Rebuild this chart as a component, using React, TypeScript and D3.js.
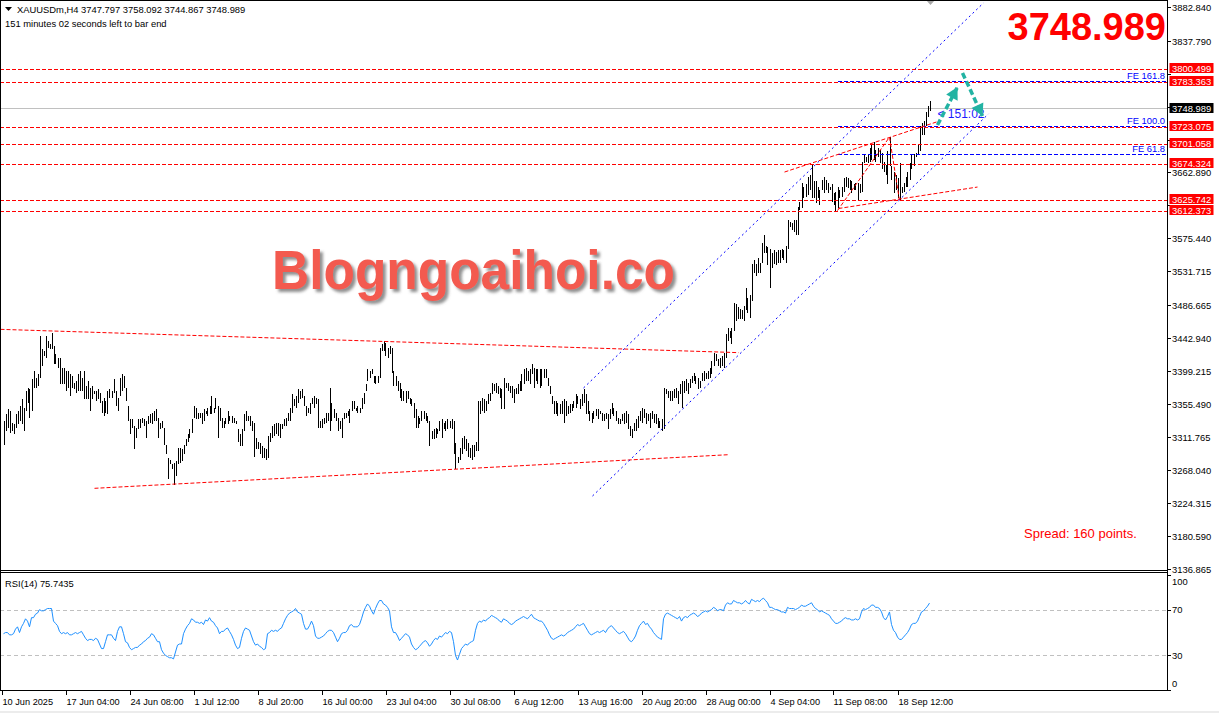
import React from "react";
import * as d3 from "d3";

// ---------- DATA ----------
const highs: number[] = [
3333,3342,3349,3346,3330,3329,3342,3346,3353,3362,
3350,3373,3377,3376,3389,3400,3390,3396,3446,3429,
3426,3446,3440,3436,3450,3433,3422,3417,3417,3404,
3404,3400,3400,3396,3393,3384,3386,3396,3400,3390,
3400,3380,3386,3377,3380,3373,3373,3376,3370,3360,
3364,3360,3373,3376,3373,3389,3373,3364,3390,3396,
3393,3377,3353,3336,3336,3326,3324,3336,3336,3337,
3336,3333,3340,3342,3344,3346,3349,3337,3330,3333,
3324,3302,3284,3282,3276,3277,3280,3297,3297,3296,
3302,3309,3316,3322,3336,3353,3350,3344,3344,3344,
3349,3346,3350,3353,3366,3350,3364,3353,3350,3337,
3333,3337,3346,3340,3340,3337,3333,3322,3316,
3322,3342,3346,3340,3340,3333,3330,3310,3306,3304,
3300,3297,3296,3313,3317,3326,3329,3330,3330,3329,
3329,3336,3337,3344,3350,3369,3362,3366,3376,3373,
3376,3366,3353,3350,3357,3364,3366,3364,3362,3333,
3336,3337,3344,3344,3377,3357,3349,3344,3337,3333,
3337,3344,3344,3346,3349,3360,3360,3350,3353,3350,
3364,3370,3382,3402,3400,3402,3393,3393,3393,3430,
3436,3440,3437,3430,3433,3430,3400,3393,3386,3384,
3376,3373,3373,3373,3364,3362,3357,3349,3340,3337,
3346,3346,3344,3340,3333,3320,3322,3324,3322,3333,
3336,3330,3333,3336,3333,3336,3333,3304,3286,3297,
3310,3313,3309,3304,3297,3302,3302,
3306,3360,3360,3364,3362,3360,3369,3370,3384,3382,
3384,3380,3377,3376,3390,3384,3384,3380,3380,3376,
3377,3382,3386,3396,3402,3404,3400,3402,3409,3404,
3402,3402,3402,3402,3402,3402,3390,3380,3366,3360,
3360,3357,3356,3360,3362,3360,3353,3356,3356,3360,
3369,3366,3362,3369,3376,3369,3360,3346,3344,3346,
3349,3349,3346,3344,3342,3344,3342,3349,3357,3350,
3346,3337,3336,3342,3344,3346,3342,3326,3322,3330,
3336,3340,3346,3350,3349,3344,3342,3344,3346,3342,
3342,3337,3333,3336,3377,3376,3373,3373,3373,3376,
3377,3373,3382,3386,3386,3389,3384,3389,3393,3397,
3393,3390,3386,
3397,3400,3397,3400,3404,3413,3424,3422,3416,3417,
3420,3424,3449,3456,3453,3457,3490,3489,3484,3482,
3480,3486,3509,3497,3500,3542,3547,3542,3549,3543,
3569,3580,3566,3564,3562,3556,3560,3557,3560,3560,
3562,3560,3566,3600,3597,3596,3600,3600,3617,3624,
3649,3644,3647,3657,3660,3674.3,3651,3651,3644,3640,
3653,3657,3653,3649,3644,3647,3636,3637,3644,3640,
3644,3656,3657,3656,3653,3651,3647,3649,3649,3647,
3677,3687,3684,3687,3696,3701,3704,3693,3696,3693,
3689,3677,3673,3691,3709.8,3671,3663,3660,3656,3676,
3644,3649,3657,3663,3676,3687,3687,3689,3700,3724,
3729,3731,3743,3751,3758.092
];

const lows: number[] = [
3302,3320,3324,3317,3320,3316,3324,3329,3333,3329,
3320,3346,3357,3337,3346,3377,3377,3380,3390,3406,
3420,3417,3430,3429,3429,3409,3409,3404,3382,3382,
3382,3373,3377,3366,3377,3376,3370,3373,3373,3373,
3362,3362,3362,3346,3362,3369,3360,3362,3357,3344,
3340,3344,3342,3364,3364,3370,3353,3346,3366,3373,
3377,3360,3333,3316,3324,3296,3310,3322,3324,3330,
3326,3310,3329,3330,3329,3333,3333,3310,3322,3324,
3302,3290,3256,3276,3269,3248,3260,3276,3277,3280,
3289,3300,3306,3310,3317,3337,3336,3336,3337,3329,
3333,3342,3340,3342,3342,3344,3349,3310,3333,3324,
3324,3329,3329,3333,3330,3330,3329,3306,3300,
3300,3320,3333,3333,3326,3320,3285,3296,3296,3289,
3284,3284,3282,3284,3306,3310,3313,3316,3313,3310,
3322,3326,3326,3333,3333,3344,3353,3350,3357,3362,
3364,3353,3340,3344,3342,3356,3350,3356,3324,3324,
3324,3329,3330,3333,3320,3333,3337,3333,3320,3322,
3310,3336,3337,3340,3330,3346,3349,3346,3344,3344,
3349,3356,3373,3386,3390,3396,3384,3382,3384,3390,
3426,3426,3420,3417,3422,3397,3380,3380,3373,3364,
3360,3360,3357,3362,3356,3353,3337,3324,3324,3329,
3333,3336,3333,3330,3300,3309,3309,3310,3316,3320,
3310,3322,3320,3322,3324,3322,3289,3269,3277,3282,
3289,3296,3293,3286,3284,3282,3286,
3293,3293,3342,3346,3344,3346,3356,3360,3369,3373,
3370,3369,3364,3349,3349,3377,3373,3370,3364,3357,
3369,3369,3373,3373,3382,3386,3386,3382,3396,3377,
3386,3382,3377,3380,3390,3390,3380,3369,3356,3342,
3342,3340,3342,3342,3330,3340,3342,3344,3346,3350,
3350,3356,3349,3353,3357,3342,3342,3333,3330,3336,
3340,3336,3342,3333,3333,3336,3322,3336,3342,3340,
3333,3329,3329,3333,3329,3330,3322,3313,3310,3320,
3320,3324,3333,3330,3337,3329,3333,3324,3336,3330,
3329,3324,3324,3320,3322,3369,3364,3360,3360,3364,
3364,3356,3369,3350,3370,3373,3369,3377,3384,3386,
3382,3376,3377,
3386,3386,3389,3389,3390,3396,3406,3413,3406,3404,
3406,3404,3417,3440,3443,3436,3453,3466,3469,3469,
3469,3466,3480,3476,3470,3493,3529,3526,3529,3530,
3543,3556,3556,3540,3510,3536,3542,3540,3543,3543,
3549,3547,3543,3562,3591,3587,3584,3580,3580,3613,
3616,3629,3631,3633,3640,3629,3629,3623,3629,3620,
3640,3636,3640,3636,3640,3624,3620,3612.4,3616,3629,
3631,3637,3644,3642,3640,3636,3640,3640,3627,3636,
3637,3676,3677,3676,3677,3680,3680,3677,3684,3676,
3667,3663,3660,3647,3671,3653,3636,3640,3629,3625.7,
3636,3637,3643,3644,3653,3667,3671,3683,3687,3691,
3713,3713,3724,3736,3744.867
];

const rsiValues: number[] = [
49,50,50,48,48,49,53,55,50,55,
58,62,60,55,63,63,66,67,70,69,
69,70,71,71,71,60,58,56,51,49,
50,49,50,48,48,49,50,49,50,51,
48,45,43,44,44,43,45,44,40,36,
36,42,48,48,48,45,43,51,55,55,
49,42,41,37,35,36,37,37,39,40,
42,43,45,46,49,48,45,42,42,35,
32,30,29,28,28,27,33,39,40,40,
49,53,56,58,62,61,59,59,58,59,
57,61,60,63,60,59,56,54,49,51,
51,53,54,51,48,44,39,36,37,45,
51,54,53,52,47,42,39,40,38,37,
35,36,49,50,52,51,52,51,53,54,
58,62,65,67,68,69,71,68,67,66,
58,53,53,56,60,56,47,45,45,46,
47,49,51,52,52,50,46,42,45,49,
50,50,52,56,57,55,55,55,57,62,
68,72,75,73,69,66,71,75,78,78,
75,74,72,69,55,50,50,47,43,
45,47,49,48,46, 40,37,35,36,38, 40,42,43,41,38, 40,43,45,44,47,
46,48,50,49,51, 50,42,30,26,31, 36,38,40,39,41, 42,43,52,58,60,
59,61,60,62,63, 65,64,63,62,60, 59,62,61,60,58, 57,58,60,61,62,
63,64,63,62,64, 66,63,62,61,60, 60,58,55,52,48, 45,44,45,46,47,
48,47,48,50,51, 52,53,55,57,56, 57,58,55,52,49, 48,49,50,51,50,
51,52,50,53,55, 56,54,52,50,49, 50,51,49,46,43, 42,44,47,52,56,
58,60,57,58,55, 53,50,48,46,45, 44,62,66,67,66, 65,64,63,62,64,
60,63,64,63,65, 66,67,66,64,65, 67,68,69,68,69, 70,72,71,69,70,
70,69,74,76,75, 75,78,77,76,76, 75,76,78,76,75, 79,78,77,78,77,
79,80,78,76,72, 72,71,70,70,69, 68,68,67,72,71, 71,71,70,71,72,
74,73,73,74,75, 76,73,71,70,68, 69,68,67,66,65, 62,60,58,58,59,
60,62,63,62,62, 61,61,62,61,62, 68,71,70,71,72, 74,74,72,72,71,
68,63,61,64,68, 57,52,50,46,44, 44,46,48,50,53, 57,58,58,60,64,
68,69,71,73,75.7435
];

const priceTicks: number[] = [3882.84, 3837.79, 3794.065, 3750.34, 3706.615, 3662.89, 3619.165, 3575.44, 3531.715, 3486.665, 3442.94, 3399.215, 3355.49, 3311.765, 3268.04, 3224.315, 3180.59, 3136.865];
const dateLabels: string[] = ["10 Jun 2025", "17 Jun 04:00", "24 Jun 08:00", "1 Jul 12:00", "8 Jul 20:00", "16 Jul 00:00", "23 Jul 04:00", "30 Jul 08:00", "6 Aug 12:00", "13 Aug 16:00", "20 Aug 20:00", "28 Aug 00:00", "4 Sep 04:00", "11 Sep 08:00", "18 Sep 12:00"];
const dateLabelBars: number[] = [0, 32, 64, 96, 128, 160, 192, 224, 256, 288, 320, 352, 384, 416, 448];

const levelPrices: number[] = [3800.499, 3783.363, 3723.075, 3701.058, 3674.324, 3625.742, 3612.373];
const lastPrice = 3748.989;
const feNames: string[] = ["FE 161.8", "FE 100.0", "FE 61.8"];
const fePrices: number[] = [3784.3, 3724.6, 3688.0];
const feStartBar = 417;
const zigzag = [{ i: 417, p: 3612.373 }, { i: 443, p: 3709.8 }, { i: 448, p: 3625.742 }];
const redTrendLines = [
  [{ i: -1.5, p: 3454.8 }, { i: 367.5, p: 3423.9 }],
  [{ i: 45.5, p: 3243.9 }, { i: 362.5, p: 3288.5 }],
  [{ i: 390.5, p: 3663.5 }, { i: 466.5, p: 3729.9 }],
  [{ i: 417.5, p: 3615.1 }, { i: 487, p: 3643.6 }],
];
const blueChannel = [
  [{ i: 290, p: 3377.0 }, { i: 490, p: 3887.8 }],
  [{ i: 294.5, p: 3233.7 }, { i: 492.5, p: 3740.6 }],
];
const arrows = [
  [{ i: 467, p: 3725.9 }, { i: 477, p: 3776.3 }],
  [{ i: 479.5, p: 3794.9 }, { i: 489.5, p: 3737.8 }],
];
const rsiLevels: number[] = [70, 30];
const rsiTicks: number[] = [100, 70, 30, 0];

const FONT = "'Liberation Sans', Arial, Helvetica, sans-serif";

export default function App() {
  const n = Math.min(highs.length, lows.length);
  const fx = d3.scaleLinear().domain([0, 463]).range([3.5, 929.5]);
  const fy = d3.scaleLinear().domain([3136.865, 3882.84]).range([569, 6.7]);
  const fr = d3.scaleLinear().domain([0, 100]).range([689.8, 575.3]);
  const c = (v: number) => Math.round(v) + 0.5;
  const rsiPath = d3.line<number>().x((_, i) => fx(i)).y((d) => fr(d))(rsiValues.slice(0, n)) || "";
  const AX = 1167.5;
  const boxYs = levelPrices.map((p) => fy(p)).concat([fy(lastPrice)]);
  const covered = (p: number) => boxYs.some((yy) => Math.abs(yy - fy(p)) < 5);

  const arrowHead = (a: { i: number; p: number }, b: { i: number; p: number }) => {
    const x1 = fx(a.i), y1 = fy(a.p), x2 = fx(b.i), y2 = fy(b.p);
    const ang = Math.atan2(y2 - y1, x2 - x1);
    const L = 12, Wd = 6.5;
    const bx = x2 - L * Math.cos(ang), by = y2 - L * Math.sin(ang);
    const px = -Math.sin(ang), py = Math.cos(ang);
    return `M${x2},${y2}L${bx + px * Wd},${by + py * Wd}L${bx - px * Wd},${by - py * Wd}Z`;
  };

  return (
    <svg width={1219} height={713} style={{ position: "absolute", left: 0, top: 0, background: "#fff" }} fontFamily={FONT}>
      <defs>
        <clipPath id="mainClip"><rect x={1} y={1} width={1166} height={569} /></clipPath>
        <clipPath id="rsiClip"><rect x={1} y={573} width={1166} height={117} /></clipPath>
        <filter id="wmShadow" x="-5%" y="-30%" width="115%" height="170%">
          <feDropShadow dx={3} dy={3} stdDeviation={1.8} floodColor="#6a6a6a" floodOpacity={0.75} />
        </filter>
      </defs>
      <rect x={0} y={0} width={1219} height={713} fill="#fff" />

      {/* main pane */}
      <g clipPath="url(#mainClip)">
        <line x1={0} x2={1167} y1={c(fy(lastPrice))} y2={c(fy(lastPrice))} stroke="#c0c0c0" strokeWidth={1} />
        <g stroke="#000" strokeWidth={1} shapeRendering="crispEdges">
          {d3.range(n).map((i) => {
            const y1 = Math.round(fy(highs[i]));
            let y2 = Math.round(fy(lows[i]));
            if (y2 <= y1) y2 = y1 + 1;
            return <line key={i} x1={c(fx(i))} x2={c(fx(i))} y1={y1} y2={y2} />;
          })}
        </g>
        {/* horizontal levels */}
        <g stroke="#ff0000" strokeWidth={1} strokeDasharray="4,2" shapeRendering="crispEdges">
          {levelPrices.map((p, k) => (
            <line key={k} x1={0} x2={1167} y1={c(fy(p))} y2={c(fy(p))} />
          ))}
        </g>
        {/* FE levels */}
        <g shapeRendering="crispEdges">
          {fePrices.map((p, k) => (
            <g key={k}>
              <line x1={fx(feStartBar)} x2={1167} y1={c(fy(p))} y2={c(fy(p))} stroke="#0000ff" strokeDasharray="4,2" />
              <text x={1165} y={Math.round(fy(p)) - 2} textAnchor="end" fontSize={9.4} fill="#0000ff">{feNames[k]}</text>
            </g>
          ))}
        </g>
        {/* red trend lines */}
        <g stroke="#ff0000" strokeWidth={1} strokeDasharray="4,2" fill="none">
          {redTrendLines.map((l, k) => (
            <line key={k} x1={fx(l[0].i)} y1={fy(l[0].p)} x2={fx(l[1].i)} y2={fy(l[1].p)} />
          ))}
          <path d={d3.line<{ i: number; p: number }>().x((d) => fx(d.i)).y((d) => fy(d.p))(zigzag) || ""} />
        </g>
        {/* blue channel */}
        <g stroke="#0000ff" strokeWidth={1} strokeDasharray="2,3" fill="none">
          {blueChannel.map((l, k) => (
            <line key={k} x1={fx(l[0].i)} y1={fy(l[0].p)} x2={fx(l[1].i)} y2={fy(l[1].p)} />
          ))}
        </g>
        {/* watermark */}
        <text x={272} y={289} fontSize={55} fontWeight="bold" fill="#f35a4f" textLength={403} lengthAdjust="spacingAndGlyphs" filter="url(#wmShadow)">Blogngoaihoi.co</text>
        {/* timer text */}
        <text x={fx(467)} y={117.5} fontSize={12} fill="#1a1aff">{"< 151:02"}</text>
        {/* arrows */}
        {arrows.map((a, k) => (
          <g key={k}>
            <line x1={fx(a[0].i)} y1={fy(a[0].p)} x2={fx(a[1].i)} y2={fy(a[1].p)} stroke="#22b3a3" strokeWidth={3.5} strokeDasharray="6,3" />
            <path d={arrowHead(a[0], a[1])} fill="#22b3a3" />
          </g>
        ))}
        <text x={1166} y={40} textAnchor="end" fontSize={38} fontWeight="bold" fill="#ff0000">3748.989</text>
        <text x={1024} y={538} fontSize={13} fill="#ff0000">Spread: 160 points.</text>
        <path d="M926,0L935,0L930.5,5Z" fill="#a8a8a8" />
      </g>

      {/* header */}
      <path d="M5,7L12,7L8.5,11Z" fill="#000" />
      <text x={17} y={13} fontSize={9.4} fill="#000">XAUUSDm,H4  3747.797 3758.092 3744.867 3748.989</text>
      <text x={5} y={27} fontSize={9.4} fill="#000">151 minutes 02 seconds left to bar end</text>

      {/* RSI pane */}
      <g clipPath="url(#rsiClip)">
        {rsiLevels.map((v) => (
          <line key={v} x1={0} x2={1167} y1={c(fr(v))} y2={c(fr(v))} stroke="#c0c0c0" strokeDasharray="4,3" shapeRendering="crispEdges" />
        ))}
        <path d={rsiPath} fill="none" stroke="#1e90ff" strokeWidth={1} />
      </g>
      <text x={5} y={587} fontSize={9.4} fill="#000">RSI(14) 75.7435</text>

      {/* frames */}
      <g stroke="#000" strokeWidth={1} fill="none" shapeRendering="crispEdges">
        <line x1={0} x2={1167} y1={0.5} y2={0.5} />
        <line x1={0.5} x2={0.5} y1={0} y2={691} />
        <line x1={0} x2={1168} y1={570.5} y2={570.5} />
        <line x1={0} x2={1168} y1={572.5} y2={572.5} />
        <line x1={0} x2={1168} y1={690.5} y2={690.5} />
        <line x1={AX} x2={AX} y1={0} y2={691} />
      </g>

      {/* price axis */}
      <g fontSize={9.4} fill="#000">
        {priceTicks.map((p, k) => (
          <g key={k}>
            <line x1={AX} x2={AX + 3} y1={c(fy(p))} y2={c(fy(p))} stroke="#000" shapeRendering="crispEdges" />
            {covered(p) ? null : <text x={1172} y={fy(p) + 4}>{p.toFixed(3)}</text>}
          </g>
        ))}
      </g>
      {/* level boxes */}
      <g fontSize={9.4}>
        {levelPrices.map((p, k) => (
          <g key={k}>
            <rect x={1169.5} y={Math.round(fy(p)) - 6} width={44} height={10} fill="#ff0000" />
            <text x={1172} y={Math.round(fy(p)) + 3} fill="#fff">{p.toFixed(3)}</text>
          </g>
        ))}
        <rect x={1169.5} y={Math.round(fy(lastPrice)) - 5} width={44} height={10} fill="#000" />
        <text x={1172} y={Math.round(fy(lastPrice)) + 3.5} fill="#fff">{lastPrice.toFixed(3)}</text>
      </g>

      {/* RSI axis */}
      <g fontSize={9.4} fill="#000">
        {rsiTicks.map((v) => {
          const yy = fr(v);
          const ty = Math.min(Math.max(yy + 3.5, 584.5), 687);
          return (
            <g key={v}>
              <line x1={AX} x2={AX + 3} y1={c(yy)} y2={c(yy)} stroke="#000" shapeRendering="crispEdges" />
              <text x={1172} y={ty}>{v}</text>
            </g>
          );
        })}
      </g>

      {/* time axis */}
      <g fontSize={9.2} fill="#000">
        {dateLabels.map((s, k) => {
          const xx = c(fx(dateLabelBars[k])) - 2;
          return (
            <g key={k}>
              <line x1={xx} x2={xx} y1={690} y2={695} stroke="#000" shapeRendering="crispEdges" />
              <text x={Math.max(xx, 2)} y={705}>{s}</text>
            </g>
          );
        })}
      </g>
      <rect x={0} y={711} width={1219} height={2} fill="#ececec" />
    </svg>
  );
}
